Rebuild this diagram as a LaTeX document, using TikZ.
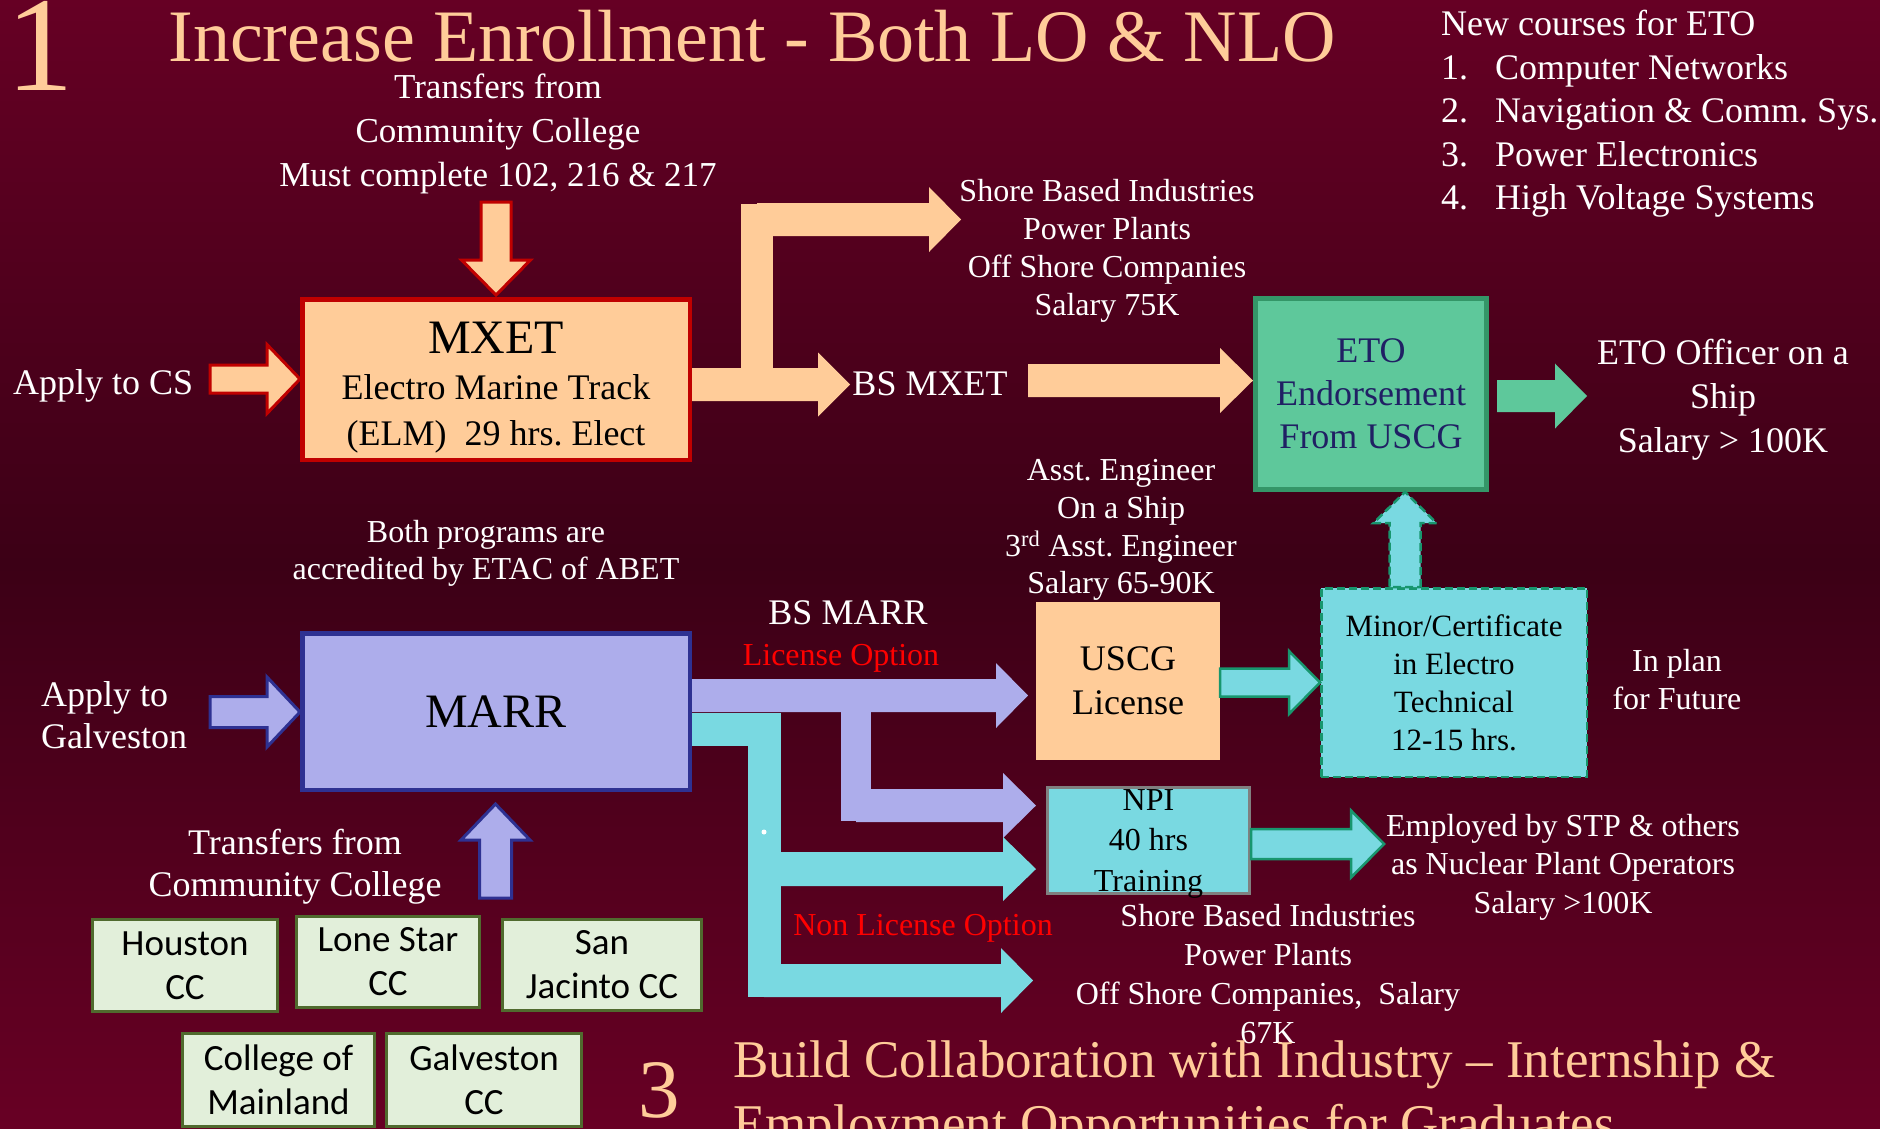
\documentclass[tikz,border=0pt]{standalone}
\usepackage{fontspec}
\setmainfont{Liberation Serif}
\newfontfamily\calibrifont{Carlito}
\usetikzlibrary{calc}
\frenchspacing

\definecolor{slidetop}{RGB}{102,0,36}
\definecolor{slidemid}{RGB}{60,0,22}
\definecolor{slidebot}{RGB}{104,0,36}
\definecolor{peach}{RGB}{255,204,153}
\definecolor{mxetred}{RGB}{192,0,0}
\definecolor{marrlav}{RGB}{173,173,235}
\definecolor{marrblue}{RGB}{46,49,146}
\definecolor{cyanfill}{RGB}{121,217,225}
\definecolor{etogreen}{RGB}{94,200,155}
\definecolor{etoedge}{RGB}{52,150,104}
\definecolor{etotext}{RGB}{32,32,100}
\definecolor{tealedge}{RGB}{24,150,110}
\definecolor{ccfill}{RGB}{226,239,218}
\definecolor{ccedge}{RGB}{80,106,46}
\definecolor{npiedge}{RGB}{128,128,128}
\definecolor{optred}{RGB}{255,0,0}

% block arrow from #2 to #3: shaft half width #4, head half width #5, head length #6
\newcommand\blockarrow[6][]{%
  \path[#1] ($(#2)!#4!90:(#3)$)
    -- ($(#3)!#6!(#2)!#4!-90:(#2)$)
    -- ($(#3)!#6!(#2)!#5!-90:(#2)$)
    -- (#3)
    -- ($(#3)!#6!(#2)!#5!90:(#2)$)
    -- ($(#3)!#6!(#2)!#4!90:(#2)$)
    -- ($(#2)!#4!-90:(#3)$) -- cycle;}

\begin{document}
\begin{tikzpicture}[yscale=-1
,wtxt/.style={text=white,inner sep=0pt,align=center}
,ptxt/.style={text=peach,inner sep=0pt}
,rtxt/.style={text=optred,inner sep=0pt,font=\fontsize{32pt}{38pt}\selectfont}
,mxetbox/.style={draw=mxetred,fill=peach,line width=4.5pt,minimum width=387.5pt,minimum height=160.5pt,inner sep=0pt,align=center,text depth=0pt,font=\fontsize{36pt}{46pt}\selectfont}
,marrbox/.style={draw=marrblue,fill=marrlav,line width=4.5pt,minimum width=387.5pt,minimum height=156.5pt,inner sep=0pt,font=\fontsize{48pt}{50pt}\selectfont}
,etobox/.style={draw=etoedge,fill=etogreen,line width=5pt,minimum width=231pt,minimum height=191pt,inner sep=0pt,align=center,text=etotext,font=\fontsize{36pt}{43pt}\selectfont}
,uscgbox/.style={fill=peach,minimum width=184pt,minimum height=158pt,inner sep=0pt,align=center,font=\fontsize{36pt}{44pt}\selectfont}
,minorbox/.style={draw=tealedge,fill=cyanfill,line width=2.5pt,dash pattern=on 8pt off 4pt,minimum width=265.5pt,minimum height=188.5pt,inner sep=0pt,align=center,font=\fontsize{31pt}{38pt}\selectfont}
,npibox/.style={draw=npiedge,fill=cyanfill,line width=3pt,minimum width=202pt,minimum height=106pt,inner sep=0pt,align=center,text depth=0pt,font=\fontsize{32pt}{40.5pt}\selectfont}
,ccbox/.style={draw=ccedge,fill=ccfill,line width=3pt,inner sep=0pt,align=center,font=\calibrifont\fontsize{37pt}{44pt}\selectfont}
,arrred/.style={fill=peach,draw=mxetred,line width=3pt}
,arrblue/.style={fill=marrlav,draw=marrblue,line width=3pt}
,arrteal/.style={fill=cyanfill,draw=tealedge,line width=2.5pt}
,arrpeach/.style={fill=peach}
,arrlav/.style={fill=marrlav}
,arrcyan/.style={fill=cyanfill}
,arreto/.style={fill=etogreen}
,shaftpeach/.style={draw=peach,line width=32pt,line cap=rect}
,shaftlav/.style={draw=marrlav,line width=30pt,line cap=rect}
,shaftcyan/.style={draw=cyanfill,line width=33pt,line join=miter}
]
\useasboundingbox (0pt,0pt) rectangle (1880pt,1128pt);
\shade[top color=slidetop,bottom color=slidebot,middle color=slidemid] (0pt,0pt) rectangle (1880pt,1128pt);

% programme boxes
\node (mxet) at (496pt,379.5pt)[mxetbox]{\rule{0pt}{40pt}{\fontsize{48pt}{50pt}\selectfont MXET}\\Electro Marine Track\\(ELM)~ 29 hrs. Elect};
\node (marr) at (496pt,711.5pt)[marrbox]{MARR};
\node (eto) at (1371pt,394pt)[etobox]{ETO\\Endorsement\\From USCG};
\node (uscg) at (1128pt,681pt)[uscgbox]{USCG\\License};
\node (minor) at (1454pt,682.5pt)[minorbox]{Minor/Certificate\\in Electro\\Technical\\12-15 hrs.};
\node (npi) at (1148.5pt,840.5pt)[npibox]{NPI\\40 hrs\\Training};

% community colleges
\node (houston) at (185pt,965.5pt)[ccbox,minimum width=185pt,minimum height=92pt]{Houston\\CC};
\node (lonestar) at (388pt,962pt)[ccbox,minimum width=183pt,minimum height=91pt]{Lone Star\\CC};
\node (sanjacinto) at (602pt,965pt)[ccbox,minimum width=199pt,minimum height=91pt]{San\\Jacinto CC};
\node (mainland) at (278.5pt,1080pt)[ccbox,minimum width=192pt,minimum height=93pt]{College of\\Mainland};
\node (galvcc) at (484pt,1080pt)[ccbox,minimum width=195pt,minimum height=93pt]{Galveston\\CC};

% headings and labels
\node (bignum1) at (40pt,90pt)[ptxt,anchor=base,font=\fontsize{135pt}{135pt}\selectfont]{1};
\node (title1) at (752pt,61pt)[ptxt,anchor=base,font=\fontsize{74pt}{80pt}\selectfont]{Increase Enrollment - Both LO \& NLO};
\node (transcs) at (498pt,134pt)[wtxt,font=\fontsize{35pt}{44pt}\selectfont]{Transfers from\\Community College\\Must complete 102, 216 \& 217};
\node (applycs) at (13pt,386pt)[wtxt,anchor=west,font=\fontsize{36pt}{44pt}\selectfont]{Apply to CS};
\node (shorejobs) at (1107pt,251pt)[wtxt,font=\fontsize{32pt}{38pt}\selectfont]{Shore Based Industries\\Power Plants\\Off Shore Companies\\Salary 75K};
\node (bsmxet) at (930pt,383.5pt)[wtxt,font=\fontsize{36pt}{44pt}\selectfont]{BS MXET};
\node (etocourses) at (1441pt,10pt)[wtxt,anchor=north west,align=left,font=\fontsize{36pt}{43.5pt}\selectfont]{New courses for ETO\\
  \makebox[54pt][l]{1.}Computer Networks\\
  \makebox[54pt][l]{2.}Navigation \& Comm. Sys.\\
  \makebox[54pt][l]{3.}Power Electronics\\
  \makebox[54pt][l]{4.}High Voltage Systems};
\node (etojob) at (1723pt,400pt)[wtxt,font=\fontsize{36pt}{44pt}\selectfont]{ETO Officer on a\\Ship\\Salary > 100K};
\node (abet) at (486pt,553pt)[wtxt,font=\fontsize{32pt}{37pt}\selectfont]{Both programs are\\accredited by ETAC of ABET};
\node (asstjob) at (1121pt,530pt)[wtxt,font=\fontsize{32pt}{37.7pt}\selectfont]{Asst. Engineer\\On a Ship\\3\textsuperscript{rd} Asst. Engineer\\Salary 65-90K};
\node (bsmarr) at (848pt,613pt)[wtxt,font=\fontsize{36pt}{44pt}\selectfont]{BS MARR};
\node (licopt) at (841pt,658pt)[rtxt]{License Option};
\node (applygal) at (41pt,715pt)[wtxt,anchor=west,align=left,font=\fontsize{36pt}{42pt}\selectfont]{Apply to\\Galveston};
\node (transgal) at (295pt,867pt)[wtxt,font=\fontsize{36pt}{42pt}\selectfont]{Transfers from\\Community College};
\node (nonlicopt) at (923pt,928pt)[rtxt]{Non License Option};
\node (inplan) at (1677pt,680pt)[wtxt,font=\fontsize{32pt}{38pt}\selectfont]{In plan\\for Future};
\node (npijob) at (1563pt,867pt)[wtxt,font=\fontsize{32pt}{38.5pt}\selectfont]{Employed by STP \& others\\as Nuclear Plant Operators\\Salary >100K};
\node (shorejobs2) at (1268pt,974pt)[wtxt,font=\fontsize{32pt}{38.7pt}\selectfont]{Shore Based Industries\\Power Plants\\Off Shore Companies,~ Salary\\67K};
\node (bignum3) at (659pt,1117pt)[ptxt,anchor=base,font=\fontsize{83pt}{83pt}\selectfont]{3};
\node (title3) at (733pt,1041pt)[ptxt,anchor=north west,align=left,font=\fontsize{53pt}{64pt}\selectfont]{Build Collaboration with Industry -- Internship \&\\Employment Opportunities for Graduates};

% into MXET
\coordinate (mxtail) at (496pt,202pt);
\coordinate (mxtip) at (496pt,295pt);
\blockarrow[arrred]{mxtail}{mxtip}{15pt}{34.5pt}{35pt}
\coordinate (cstail) at (210pt,379pt);
\coordinate (cstip) at (mxet.west |- cstail);
\blockarrow[arrred]{cstail}{cstip}{14pt}{34.5pt}{33pt}

% out of MXET
\coordinate (bsxtip) at (850pt,384.5pt);
\coordinate (bsxtail) at (mxet.east |- bsxtip);
\blockarrow[arrpeach]{bsxtail}{bsxtip}{16.5pt}{32pt}{32pt}
\coordinate (shorefoot) at (757pt,384.5pt);
\coordinate (shorebend) at (757pt,219.5pt);
\coordinate (shoretip) at (961pt,219.5pt);
\draw[shaftpeach] (shorefoot) -- (shorebend);
\blockarrow[arrpeach]{shorebend}{shoretip}{16.5pt}{32.5pt}{32pt}
\coordinate (etotail) at (1028pt,380.5pt);
\coordinate (etotip) at (eto.west |- etotail);
\blockarrow[arrpeach]{etotail}{etotip}{16.5pt}{32.5pt}{33pt}
\coordinate (offtail) at (1497pt,396pt);
\coordinate (offtip) at (1587pt,396pt);
\blockarrow[arreto]{offtail}{offtip}{16pt}{32.5pt}{32pt}

% into MARR
\coordinate (galtail) at (210pt,712pt);
\coordinate (galtip) at (marr.west |- galtail);
\blockarrow[arrblue]{galtail}{galtip}{15.5pt}{35pt}{33pt}
\coordinate (cctail) at (495.5pt,898pt);
\coordinate (cctip) at (495.5pt,804pt);
\blockarrow[arrblue]{cctail}{cctip}{16pt}{34.5pt}{36pt}

% out of MARR, license option
\coordinate (lictip) at (1028pt,695.5pt);
\coordinate (lictail) at (marr.east |- lictip);
\blockarrow[arrlav]{lictail}{lictip}{16.5pt}{32.5pt}{32pt}
\coordinate (npifoot) at (856pt,700pt);
\coordinate (npibend) at (856pt,805.5pt);
\coordinate (npitip) at (1036pt,805.5pt);
\draw[shaftlav] (npifoot) -- (npibend);
\blockarrow[arrlav]{npibend}{npitip}{16.5pt}{32.5pt}{33pt}

% out of MARR, non license option
\coordinate (nlrow) at (764pt,729pt);
\coordinate (nlstart) at (marr.east |- nlrow);
\coordinate (nlfoot) at (764pt,997pt);
\draw[shaftcyan] (nlstart) -| (nlfoot);
\coordinate (nlmid) at (764pt,869pt);
\coordinate (nlmidtip) at (1036pt,869pt);
\blockarrow[arrcyan]{nlmid}{nlmidtip}{17pt}{32pt}{33pt}
\coordinate (nllow) at (764pt,980.5pt);
\coordinate (nllowtip) at (1033pt,980.5pt);
\blockarrow[arrcyan]{nllow}{nllowtip}{16.5pt}{32.5pt}{32pt}
\fill[white] (764pt,832pt) circle (2.5pt);

% certificate and NPI arrows
\coordinate (mintail) at (uscg.east |- minor.west);
\blockarrow[arrteal]{mintail}{minor.west}{14pt}{31.5pt}{31pt}
\coordinate (upx) at (1405pt,600pt);
\coordinate (uptail) at (upx |- minor.north);
\coordinate (uptip) at (upx |- eto.south);
\blockarrow[arrteal,dash pattern=on 8pt off 4pt]{uptail}{uptip}{15.5pt}{31.5pt}{31pt}
\coordinate (emptip) at (1384pt,844pt);
\coordinate (emptail) at (npi.east |- emptip);
\blockarrow[arrteal]{emptail}{emptip}{15pt}{33.5pt}{33pt}
\end{tikzpicture}
\end{document}
